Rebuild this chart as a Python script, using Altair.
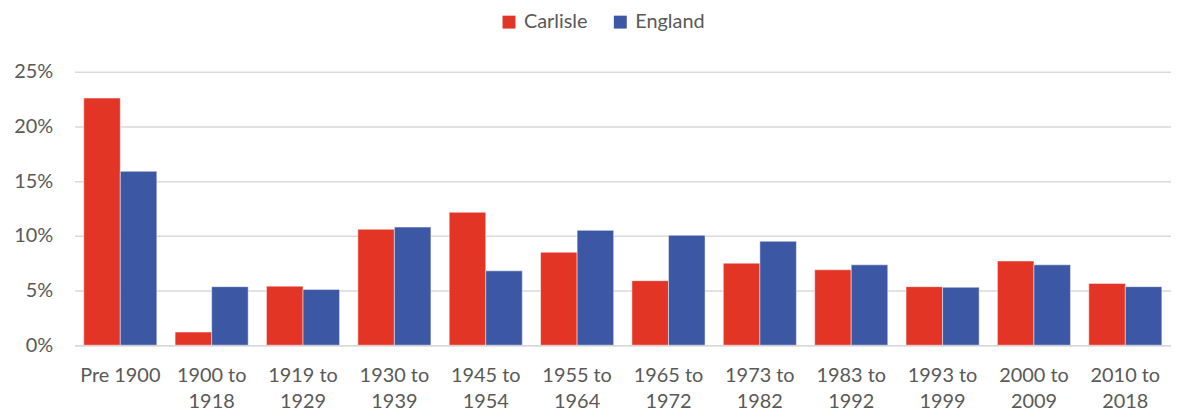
import altair as alt
import pandas as pd

categories = ["Pre 1900", "1900 to 1918", "1919 to 1929", "1930 to 1939", "1945 to 1954",
              "1955 to 1964", "1965 to 1972", "1973 to 1982", "1983 to 1992", "1993 to 1999",
              "2000 to 2009", "2010 to 2018"]
carlisle = [0.226, 0.012, 0.054, 0.106, 0.1215, 0.085, 0.059, 0.075, 0.069, 0.0535, 0.077, 0.0565]
england = [0.159, 0.0535, 0.051, 0.108, 0.068, 0.105, 0.1005, 0.095, 0.0735, 0.053, 0.0735, 0.0535]
series = ["Carlisle", "England"]
colors = ["#E33526", "#3C57A4"]

rows = []
for i, c in enumerate(categories):
    rows.append({"period": c, "series": series[0], "value": carlisle[i]})
    rows.append({"period": c, "series": series[1], "value": england[i]})
df = pd.DataFrame(rows)

FONT = "Lato"
TXT = "#595959"

label_expr = ("indexof(datum.value, ' to ') > 0 ? "
              "[split(datum.value, ' to ')[0] + ' to', split(datum.value, ' to ')[1]] : datum.value")

chart = alt.Chart(df).mark_bar(stroke="white", strokeWidth=0.8, strokeOpacity=0.6).encode(
    x=alt.X("period:N", sort=categories, title=None,
            scale=alt.Scale(paddingInner=0.2, paddingOuter=0.1),
            axis=alt.Axis(labelAngle=0, labelExpr=label_expr, labelFont=FONT, labelFontSize=20,
                          labelColor=TXT, labelPadding=21, labelLineHeight=26, ticks=False,
                          domainColor="#D9D9D9", domainWidth=1.5, grid=False)),
    xOffset=alt.XOffset("series:N", sort=series),
    y=alt.Y("value:Q", title=None,
            scale=alt.Scale(domain=[0, 0.25], nice=False),
            axis=alt.Axis(format=".0%", values=[0, 0.05, 0.10, 0.15, 0.20, 0.25],
                          labelFont=FONT, labelFontSize=20, labelColor=TXT, labelPadding=22,
                          ticks=False, domain=False, gridColor="#D9D9D9", gridWidth=1.5)),
    color=alt.Color("series:N", sort=series, title=None,
                    scale=alt.Scale(domain=series, range=colors),
                    legend=alt.Legend(orient="none", direction="horizontal", legendX=427, legendY=-60,
                                      symbolType="square", symbolSize=169, symbolStrokeWidth=0,
                                      labelFont=FONT, labelFontSize=20, labelColor=TXT,
                                      labelOffset=5, columnPadding=22)),
).properties(
    width=1103, height=275,
    autosize=alt.AutoSizeParams(type="none"),
    padding={"left": 67, "top": 63, "right": 0, "bottom": 65},
).configure_view(stroke=None)

chart.save("out.html", embed_options={"renderer": "svg", "actions": False})
